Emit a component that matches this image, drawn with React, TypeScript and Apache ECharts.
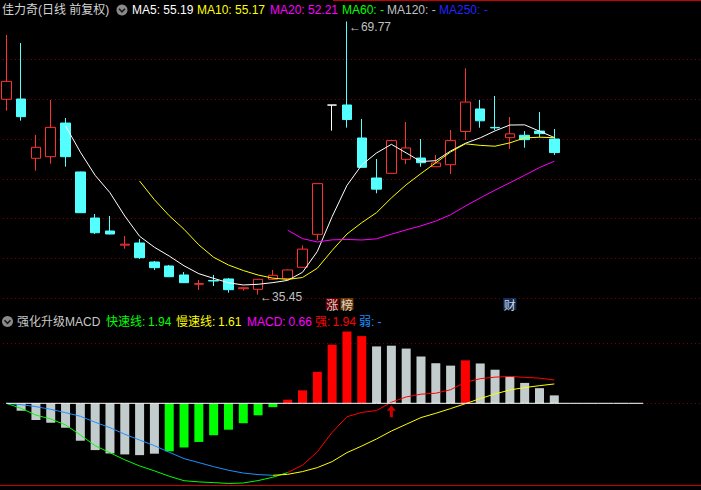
import { useEffect, useRef } from "react";
import * as echarts from "echarts";

// ---- 佳力奇 daily bars (前复权) ----
const opens = [60.0, 60.03, 52.58, 52.78, 57.01, 50.86, 45.07, 43.44, 41.66, 41.93, 39.54, 39.04, 37.91, 36.75, 37.22, 37.41, 36.18, 36.11, 37.37, 37.45, 38.88, 43.02, 59.27, 59.28, 55.13, 50.1, 50.69, 52.45, 52.61, 51.52, 51.77, 55.95, 58.78, 56.46, 55.17, 55.47, 56.0, 55.0];
const closes = [62.25, 57.81, 53.96, 56.47, 52.78, 45.74, 43.22, 43.06, 41.78, 40.08, 38.83, 37.69, 36.94, 36.82, 37.15, 36.06, 36.3, 37.37, 37.87, 38.54, 41.16, 49.39, 59.27, 57.45, 51.44, 48.7, 54.8, 53.88, 52.02, 51.99, 54.8, 59.65, 57.29, 56.4, 55.65, 54.92, 55.68, 53.3];
const lows = [58.56, 57.31, 51.02, 51.9, 51.52, 45.7, 43.06, 43.02, 41.21, 39.92, 38.54, 37.65, 36.9, 36.02, 36.52, 35.68, 35.95, 35.45, 37.3, 37.4, 38.85, 42.3, 56.05, 56.43, 51.44, 48.18, 50.65, 51.86, 51.52, 51.5, 50.6, 54.88, 56.42, 56.13, 53.75, 53.91, 55.22, 52.99];
const highs = [68.08, 67.07, 55.51, 59.91, 57.64, 50.9, 45.57, 45.32, 42.81, 42.43, 39.67, 39.16, 38.28, 37.28, 37.91, 37.53, 36.35, 37.4, 38.54, 38.6, 41.63, 49.39, 59.27, 69.77, 57.52, 52.49, 54.88, 57.14, 55.0, 52.99, 56.13, 63.89, 59.91, 60.41, 57.77, 56.0, 58.4, 56.26];

// ---- 强化升级MACD ----
const fastLine = [0, -0.42, -0.98, -1.31, -1.8, -2.64, -3.53, -4.12, -4.71, -5.22, -5.63, -6.08, -6.45, -6.55, -6.61, -6.68, -6.64, -6.44, -6.16, -5.77, -5.15, -4.05, -2.42, -1.12, -0.76, -0.6, 0.09, 0.53, 0.76, 0.84, 1.13, 1.76, 2.05, 2.18, 2.24, 2.16, 2.1, 1.94];
const slowLine = [0, -0.11, -0.28, -0.5, -0.78, -1.08, -1.58, -2.03, -2.58, -3.06, -3.53, -4.08, -4.61, -4.94, -5.28, -5.58, -5.81, -5.94, -6.0, -5.92, -5.69, -5.36, -4.86, -4.11, -3.56, -2.97, -2.31, -1.75, -1.19, -0.83, -0.44, -0.03, 0.39, 0.78, 1.11, 1.31, 1.47, 1.61];
// histogram tone: 1 strengthening, -1 recovering, 0 fading
const barTone = [0, 0, 0, 0, 0, 0, 0, 0, 0, 0, 0, -1, -1, -1, -1, -1, -1, -1, -1, 1, 1, 1, 1, 1, 1, 0, 0, 0, 0, 0, 0, 1, 0, 0, 0, 0, 0, 0];

// ---- event tags under the bars ----
const eventTags = [
  { index: 22, text: "涨" },
  { index: 23, text: "榜" },
  { index: 34, text: "财" },
];

const stockName = "佳力奇";
const periodLabel = "(日线 前复权)";
const maPeriods = [5, 10, 20];
const maUnavailable = ["MA60", "MA120", "MA250"];

// layout constants
const SLOT_COUNT = 48;
const ZERO_LINE_SLOTS = 44;
const TAG_PRICE = 34.26;
const FONT = '12px "Liberation Sans", "Noto Sans CJK SC", sans-serif';

const UP = "#ff3232";
const DOWN = "#54ffff";
const GRID_RED = "#800000";

function movingAverage(n: number): (number | null)[] {
  return closes.map((_, i) => {
    if (i < n - 1) return null;
    let s = 0;
    for (let k = i - n + 1; k <= i; k++) s += closes[k];
    return s / n;
  });
}

export default function App() {
  const ref = useRef<HTMLDivElement>(null);

  useEffect(() => {
    if (!ref.current) return;
    const chart = echarts.init(ref.current, undefined, { renderer: "svg" });

    const slots = Array.from({ length: SLOT_COUNT }, (_, i) => String(i + 1));
    const ohlc = closes.map((c, i) => [opens[i], c, lows[i], highs[i]]);
    const maColors = ["#ffffff", "#ffff00", "#ff00ff"];
    const maSeries = maPeriods.map((p) => movingAverage(p));
    const lastOf = (arr: (number | null)[]) => arr[arr.length - 1] as number;

    const macd = fastLine.map((f, i) => 2 * (f - slowLine[i]));
    const toneColor = (t: number) => (t > 0 ? "#ff0000" : t < 0 ? "#00ff00" : "#c3cccc");
    const isStrong = fastLine.map((f, i) => f > slowLine[i]);
    // 强: fast line while above the slow line; 弱: slow line while the fast line is below
    const strong = fastLine.map((f, i) => (isStrong[i] ? f : null));
    const weak = slowLine.map((s, i) => (!isStrong[i] ? s : null));
    // plain segments bridge one bar into the other state so the line stays continuous
    const fastPlain = fastLine.map((f, i) => (!isStrong[i] || (i > 0 && !isStrong[i - 1]) ? f : null));
    const slowPlain = slowLine.map((s, i) => (isStrong[i] || (i + 1 < slowLine.length && isStrong[i + 1]) ? s : null));
    const crossUps: number[][] = [];
    fastLine.forEach((f, i) => {
      if (i > 0 && fastLine[i - 1] < 0 && f >= 0) crossUps.push([i, 0]);
    });

    const tagColors: Record<string, string> = { 涨: "#7a0000", 榜: "#8a4a0a", 财: "#17386e" };

    const lastFast = fastLine[fastLine.length - 1];
    const lastSlow = slowLine[slowLine.length - 1];
    const lastMacd = macd[macd.length - 1];
    const lastStrong = strong[strong.length - 1];
    const lastWeak = weak[weak.length - 1];

    const text = (x: number, y: number, t: string, fill: string) => ({
      type: "text",
      x,
      y,
      silent: true,
      style: { text: t, fill, font: FONT, verticalAlign: "middle" },
    });
    const icon = (cx: number, cy: number) => ({
      type: "group",
      silent: true,
      children: [
        { type: "circle", shape: { cx, cy, r: 5.5 }, style: { fill: "#8a8a8a" } },
        {
          type: "polyline",
          shape: { points: [[cx - 3, cy - 1.2], [cx, cy + 1.8], [cx + 3, cy - 1.2]] },
          style: { stroke: "#1a1a1a", lineWidth: 1.6, fill: "none" },
        },
      ],
    });

    const topLegend: any[] = [
      text(2, 10, stockName + periodLabel, "#d4d4d4"),
      icon(122, 10),
      text(132, 10, `MA5: ${lastOf(maSeries[0]).toFixed(2)}`, "#ffffff"),
      text(197, 10, `MA10: ${lastOf(maSeries[1]).toFixed(2)}`, "#ffff00"),
      text(270, 10, `MA20: ${lastOf(maSeries[2]).toFixed(2)}`, "#ff00ff"),
      text(342, 10, `${maUnavailable[0]}: -`, "#00ff00"),
      text(387, 10, `${maUnavailable[1]}: -`, "#c0c0c0"),
      text(439, 10, `${maUnavailable[2]}: -`, "#2424ff"),
    ];
    const fmt = (v: number | null) => (v == null ? "-" : v.toFixed(2));
    const macdLegend: any[] = [
      icon(7.5, 321.5),
      text(17, 321.5, "强化升级MACD", "#c8c8c8"),
      text(106, 321.5, "快速线:", "#00ff00"),
      text(148, 321.5, fmt(lastFast), "#00ff00"),
      text(176, 321.5, "慢速线:", "#ffff00"),
      text(218, 321.5, fmt(lastSlow), "#ffff00"),
      text(247, 321.5, "MACD:", "#ff00ff"),
      text(288.5, 321.5, fmt(lastMacd), "#ff00ff"),
      text(315, 321.5, "强:", "#ff0000"),
      text(332.5, 321.5, fmt(lastStrong), "#ff0000"),
      text(359, 321.5, "弱:", "#1e90ff"),
      text(377.5, 321.5, fmt(lastWeak), "#1e90ff"),
    ];

    const hiddenAxis = {
      axisLine: { show: false },
      axisTick: { show: false },
      axisLabel: { show: false },
    };

    const option: any = {
      animation: false,
      backgroundColor: "#000000",
      textStyle: { fontFamily: '"Liberation Sans", "Noto Sans CJK SC", sans-serif' },
      grid: [
        { left: -1.1, top: 19.7, width: 710.9, height: 318.2, containLabel: false, outerBoundsMode: "none" },
        { left: -1.1, top: 319.3, width: 710.9, height: 168, containLabel: false, outerBoundsMode: "none" },
      ],
      xAxis: [
        { type: "category", gridIndex: 0, data: slots, boundaryGap: true, ...hiddenAxis, splitLine: { show: false } },
        { type: "category", gridIndex: 1, data: slots, boundaryGap: true, ...hiddenAxis, splitLine: { show: false } },
      ],
      yAxis: [
        {
          type: "value",
          gridIndex: 0,
          min: 30,
          max: 70,
          interval: 5,
          ...hiddenAxis,
          splitLine: {
            show: true,
            showMinLine: false,
            showMaxLine: false,
            lineStyle: { color: GRID_RED, type: [1, 3], width: 1 },
          },
        },
        { type: "value", gridIndex: 1, min: -7, max: 7, ...hiddenAxis, splitLine: { show: false } },
      ],
      graphic: [
        { type: "line", silent: true, shape: { x1: 333, y1: 0.5, x2: 701, y2: 0.5 }, style: { stroke: "#c80000", lineWidth: 1 } },
        { type: "line", silent: true, shape: { x1: 0, y1: 485.5, x2: 701, y2: 485.5 }, style: { stroke: "#c80000", lineWidth: 1 } },
        ...topLegend,
        ...macdLegend,
      ],
      series: [
        {
          type: "candlestick",
          name: "K线",
          xAxisIndex: 0,
          yAxisIndex: 0,
          data: ohlc,
          barWidth: 10,
          z: 2,
          itemStyle: {
            color: "#000000",
            color0: DOWN,
            borderColor: UP,
            borderColor0: DOWN,
            borderColorDoji: "#ffffff",
            borderWidth: 1,
          },
          markPoint: {
            symbol: "circle",
            symbolSize: 0,
            silent: true,
            label: {
              show: true,
              position: "right",
              distance: 1,
              color: "#c0c0c0",
              fontSize: 12,
              fontFamily: '"Liberation Sans", "DejaVu Sans", sans-serif',
              formatter: (p: any) => "←" + Number(p.value).toFixed(2),
            },
            data: [
              { type: "max", valueDim: "highest", label: { offset: [1, 5] } },
              { type: "min", valueDim: "lowest", label: { offset: [1, 2] } },
            ],
          },
        },
        ...maSeries.map((d, k) => ({
          type: "line",
          name: `MA${maPeriods[k]}`,
          xAxisIndex: 0,
          yAxisIndex: 0,
          data: d,
          showSymbol: false,
          z: 3,
          lineStyle: { color: maColors[k], width: 1 },
        })),
        {
          type: "scatter",
          name: "tags",
          xAxisIndex: 0,
          yAxisIndex: 0,
          symbol: "rect",
          symbolSize: [13, 12],
          z: 4,
          data: eventTags.map((e) => ({
            value: [e.index, TAG_PRICE],
            name: e.text,
            itemStyle: { color: tagColors[e.text] },
          })),
          label: {
            show: true,
            position: "inside",
            formatter: (p: any) => p.name,
            color: "#ffffff",
            fontSize: 12,
            fontFamily: '"Noto Sans CJK SC", sans-serif',
          },
        },
        // MACD panel
        {
          type: "line",
          name: "零轴",
          xAxisIndex: 1,
          yAxisIndex: 1,
          data: Array(ZERO_LINE_SLOTS).fill(0),
          showSymbol: false,
          z: 5,
          lineStyle: { color: "#ffffff", width: 1 },
          markLine: {
            silent: true,
            symbol: "none",
            z: 1,
            label: { show: false },
            lineStyle: { color: GRID_RED, type: [1, 3], width: 1 },
            data: [{ yAxis: 5 }, { yAxis: 0 }],
          },
        },
        {
          type: "bar",
          name: "MACD",
          xAxisIndex: 1,
          yAxisIndex: 1,
          barWidth: 9,
          z: 2,
          data: macd.map((v, i) => ({ value: v, itemStyle: { color: toneColor(barTone[i]) } })),
        },
        {
          type: "line",
          name: "快速线",
          xAxisIndex: 1,
          yAxisIndex: 1,
          data: fastPlain,
          showSymbol: false,
          z: 3,
          lineStyle: { color: "#00ff00", width: 1 },
        },
        {
          type: "line",
          name: "慢速线",
          xAxisIndex: 1,
          yAxisIndex: 1,
          data: slowPlain,
          showSymbol: false,
          z: 3,
          lineStyle: { color: "#ffff00", width: 1 },
        },
        {
          type: "line",
          name: "弱",
          xAxisIndex: 1,
          yAxisIndex: 1,
          data: weak,
          showSymbol: false,
          z: 4,
          lineStyle: { color: "#1e90ff", width: 1 },
        },
        {
          type: "line",
          name: "强",
          xAxisIndex: 1,
          yAxisIndex: 1,
          data: strong,
          showSymbol: false,
          z: 4,
          lineStyle: { color: "#ff0000", width: 1 },
        },
        {
          type: "scatter",
          name: "金叉",
          xAxisIndex: 1,
          yAxisIndex: 1,
          data: crossUps,
          symbol: "path://M4.5,0 L9,5.5 L6,5.5 L6,12 L3,12 L3,5.5 L0,5.5 Z",
          symbolSize: [9, 12],
          symbolOffset: [0, 8],
          z: 6,
          itemStyle: { color: "#ff0000" },
        },
      ],
    };

    chart.setOption(option);
    return () => chart.dispose();
  }, []);

  return (
    <div
      ref={ref}
      style={{ position: "fixed", left: 0, top: 0, width: 701, height: 490, background: "#000000" }}
    />
  );
}
